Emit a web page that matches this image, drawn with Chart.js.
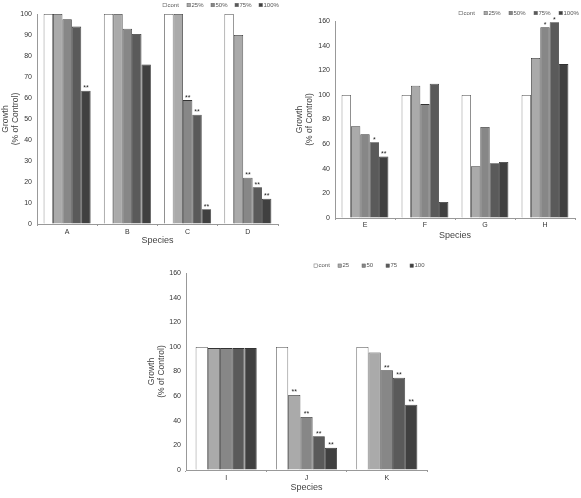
<!DOCTYPE html>
<html>
<head>
<meta charset="utf-8">
<script src="https://cdn.jsdelivr.net/npm/chart.js@4.4.0/dist/chart.umd.min.js"></script>
<style>
  html, body { margin: 0; padding: 0; background: #fff; }
  body { width: 581px; height: 498px; position: relative; overflow: hidden; }
  canvas { position: absolute; }
</style>
</head>
<body>
<canvas id="c1" width="290" height="250" style="left:0px;top:0px;width:290px;height:250px"></canvas>
<canvas id="c2" width="291" height="245" style="left:290px;top:0px;width:291px;height:245px"></canvas>
<canvas id="c3" width="300" height="243" style="left:140px;top:255px;width:300px;height:243px"></canvas>
<script>
// ---------- DATA ----------
const seriesLabelsPct = ['cont', '25%', '50%', '75%', '100%'];
const seriesLabelsNum = ['cont', '25', '50', '75', '100'];

// Panel 1 (A-D)
const p1Categories = ['A', 'B', 'C', 'D'];
const p1Cont = [100, 100, 100, 100];
const p1S25  = [100, 100, 100, 90];
const p1S50  = [97.5, 93, 59, 22];
const p1S75  = [94, 90.5, 52, 17.5];
const p1S100 = [63.5, 76, 7, 12];
const p1SigCont = ['', '', '', ''];
const p1Sig25  = ['', '', '', ''];
const p1Sig50  = ['', '', '**', '**'];
const p1Sig75  = ['', '', '**', '**'];
const p1Sig100 = ['**', '', '**', '**'];
const p1YTicks = [0, 10, 20, 30, 40, 50, 60, 70, 80, 90, 100];

// Panel 2 (E-H)
const p2Categories = ['E', 'F', 'G', 'H'];
const p2Cont = [100, 100, 100, 100];
const p2S25  = [74.5, 107.5, 42, 130];
const p2S50  = [68, 92.5, 74, 155];
const p2S75  = [61.5, 109, 44.5, 159];
const p2S100 = [50, 13, 45.5, 125];
const p2SigCont = ['', '', '', ''];
const p2Sig25  = ['', '', '', ''];
const p2Sig50  = ['', '', '', '*'];
const p2Sig75  = ['*', '', '', '*'];
const p2Sig100 = ['**', '', '', ''];
const p2YTicks = [0, 20, 40, 60, 80, 100, 120, 140, 160];

// Panel 3 (I-K)
const p3Categories = ['I', 'J', 'K'];
const p3Cont = [100, 100, 100];
const p3S25  = [99, 61, 95.5];
const p3S50  = [99, 43, 81];
const p3S75  = [99, 27.5, 75];
const p3S100 = [99, 18, 53];
const p3SigCont = ['', '', ''];
const p3Sig25  = ['', '**', ''];
const p3Sig50  = ['', '**', '**'];
const p3Sig75  = ['', '**', '**'];
const p3Sig100 = ['', '**', '**'];
const p3YTicks = [0, 20, 40, 60, 80, 100, 120, 140, 160];

// ---------- STYLE ----------
const FONT = "'Liberation Sans', Arial, sans-serif";
const fills = ['#ffffff', '#aaaaaa', '#878787', '#5a5a5a', '#404040'];
const borders = ['#555555', '#333333', '#333333', '#333333', '#333333'];

const sigPlugin = {
  id: 'sigMarks',
  afterDatasetsDraw(chart) {
    const ctx = chart.ctx;
    ctx.save();
    ctx.font = '7px ' + FONT;
    ctx.fillStyle = '#222';
    ctx.textAlign = 'center';
    ctx.textBaseline = 'bottom';
    chart.data.datasets.forEach((ds, i) => {
      const meta = chart.getDatasetMeta(i);
      meta.data.forEach((el, j) => {
        const t = ds.sig && ds.sig[j];
        if (t) ctx.fillText(t, el.x, el.y + 1);
      });
    });
    ctx.restore();
  }
};

const legendPlugin = {
  id: 'ownLegend',
  afterDraw(chart, args, opts) {
    const ctx = chart.ctx;
    ctx.save();
    ctx.font = opts.size + 'px ' + FONT;
    ctx.textBaseline = 'middle';
    ctx.textAlign = 'left';
    chart.data.datasets.forEach((ds, i) => {
      const x = opts.x + i * opts.step;
      const y = opts.y;
      ctx.fillStyle = ds.backgroundColor;
      ctx.fillRect(x, y - 1.75, 3.5, 3.5);
      ctx.strokeStyle = '#666';
      ctx.lineWidth = 0.5;
      ctx.strokeRect(x, y - 1.75, 3.5, 3.5);
      ctx.fillStyle = '#555';
      ctx.fillText(ds.label, x + 4.5, y);
    });
    ctx.restore();
  }
};

function makeChart(id, cfg) {
  const datasets = cfg.series.map((s, i) => ({
    label: cfg.labels[i],
    data: s,
    sig: cfg.sigs[i],
    backgroundColor: fills[i],
    borderColor: borders[i],
    borderWidth: 0.8,
    categoryPercentage: cfg.catPct,
    barPercentage: 1.0
  }));
  return new Chart(document.getElementById(id), {
    type: 'bar',
    data: { labels: cfg.categories, datasets },
    plugins: [sigPlugin, legendPlugin],
    options: {
      responsive: false,
      animation: false,
      devicePixelRatio: 1,
      layout: { padding: { left: 0, top: cfg.top, right: cfg.right, bottom: 0 } },
      plugins: {
        legend: { display: false },
        tooltip: { enabled: false },
        ownLegend: cfg.legend
      },
      scales: {
        x: {
          grid: { offset: true, drawOnChartArea: false, drawTicks: true, tickLength: 2, color: '#999' },
          border: { display: true, color: '#999', width: 1 },
          ticks: { font: { family: FONT, size: 7 }, color: '#333', padding: cfg.xTickPad, maxRotation: 0 },
          title: {
            display: true, text: 'Species', color: '#444',
            font: { family: FONT, size: 9 }, padding: { top: 0, bottom: cfg.xTitlePad }
          },
          afterFit(s) { s.height = cfg.xHeight; }
        },
        y: {
          min: 0, max: cfg.yMax,
          afterBuildTicks(s) { s.ticks = cfg.yTicks.map(v => ({ value: v })); },
          grid: { drawOnChartArea: false, drawTicks: false, color: '#999' },
          border: { display: true, color: '#999', width: 1 },
          ticks: { font: { family: FONT, size: 7 }, color: '#333', padding: cfg.yTickPad },
          title: {
            display: true, text: ['Growth', '(% of Control)'], color: '#444',
            font: { family: FONT, size: 8.5, lineHeight: 1.15 }, padding: { top: cfg.yTitlePad, bottom: 0 }
          },
          afterFit(s) { s.width = cfg.yWidth; }
        }
      }
    }
  });
}

makeChart('c1', {
  categories: p1Categories,
  labels: seriesLabelsPct,
  series: [p1Cont, p1S25, p1S50, p1S75, p1S100],
  sigs: [p1SigCont, p1Sig25, p1Sig50, p1Sig75, p1Sig100],
  yMax: 100, yTicks: p1YTicks,
  catPct: 0.78,
  top: 14, right: 12, xHeight: 26, yWidth: 37,
  xTickPad: 1.8, xTitlePad: 4, yTickPad: 5, yTitlePad: 0.5,
  legend: { x: 163, y: 5, step: 24, size: 6 }
});

makeChart('c2', {
  categories: p2Categories,
  labels: seriesLabelsPct,
  series: [p2Cont, p2S25, p2S50, p2S75, p2S100],
  sigs: [p2SigCont, p2Sig25, p2Sig50, p2Sig75, p2Sig100],
  yMax: 160, yTicks: p2YTicks,
  catPct: 0.78,
  top: 21, right: 6, xHeight: 27, yWidth: 45,
  xTickPad: 0.8, xTitlePad: 3.6, yTickPad: 5, yTitlePad: 5,
  legend: { x: 169, y: 13, step: 25, size: 6 }
});

makeChart('c3', {
  categories: p3Categories,
  labels: seriesLabelsNum,
  series: [p3Cont, p3S25, p3S50, p3S75, p3S100],
  sigs: [p3SigCont, p3Sig25, p3Sig50, p3Sig75, p3Sig100],
  yMax: 160, yTicks: p3YTicks,
  catPct: 0.76,
  top: 18, right: 13, xHeight: 28, yWidth: 46,
  xTickPad: 1.5, xTitlePad: 4.6, yTickPad: 5, yTitlePad: 6.8,
  legend: { x: 174, y: 10.7, step: 24, size: 6 }
});
</script>
</body>
</html>
